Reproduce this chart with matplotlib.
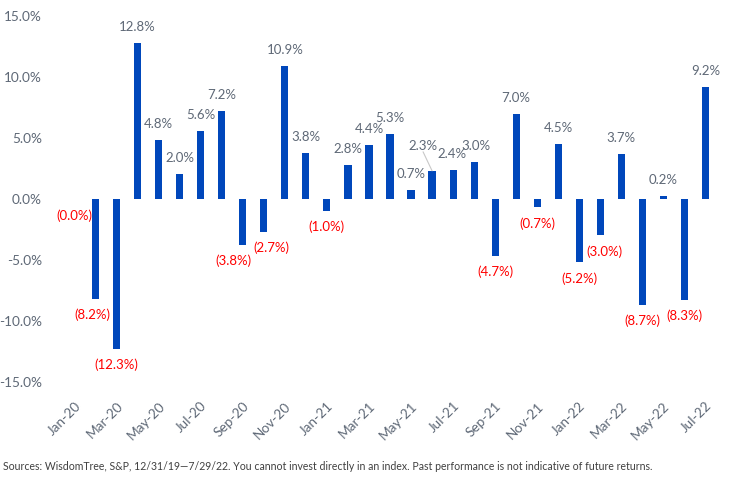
import matplotlib
matplotlib.use("Agg")
import matplotlib.pyplot as plt

months = ["Jan-20", "Feb-20", "Mar-20", "Apr-20", "May-20", "Jun-20", "Jul-20", "Aug-20",
          "Sep-20", "Oct-20", "Nov-20", "Dec-20", "Jan-21", "Feb-21", "Mar-21", "Apr-21",
          "May-21", "Jun-21", "Jul-21", "Aug-21", "Sep-21", "Oct-21", "Nov-21", "Dec-21",
          "Jan-22", "Feb-22", "Mar-22", "Apr-22", "May-22", "Jun-22", "Jul-22"]
returns = [-0.04, -8.2, -12.3, 12.8, 4.8, 2.0, 5.6, 7.2,
           -3.8, -2.7, 10.9, 3.8, -1.0, 2.8, 4.4, 5.3,
           0.7, 2.3, 2.4, 3.0, -4.7, 7.0, -0.7, 4.5,
           -5.2, -3.0, 3.7, -8.7, 0.2, -8.3, 9.2]
yticks = [-15, -10, -5, 0, 5, 10, 15]

# label nudges in pixels (dx, dy) to avoid overlaps, as in the original
nudges = {"Feb-20": (-3.5, 0), "Sep-20": (-9, 0), "Oct-20": (7.5, 0),
          "Feb-22": (4.5, 0), "Jun-21": (-9, 9), "Jul-21": (-1, 0), "Aug-21": (2, 0)}

FONT = ["Lato", "DejaVu Sans"]
plt.rcParams["font.family"] = FONT

W, H = 733, 482
fig = plt.figure(figsize=(W / 100, H / 100), dpi=100)
ax = fig.add_axes([64 / W, (H - 381.7) / H, 652 / W, (381.7 - 16) / H])

x = list(range(len(months)))
ax.bar(x, returns, width=0.34, color="#0047BB", zorder=2)
ax.set_xlim(-0.5, len(months) - 0.5)
ax.set_ylim(-15, 15)

ax.set_yticks(yticks)
ax.set_yticklabels([f"{v:.1f}%" for v in yticks])
ax.set_xticks(x[::2])
ax.set_xticklabels(months[::2], rotation=45, ha="right", rotation_mode="anchor")
ax.tick_params(axis="both", length=0, colors="#5E6876", labelsize=9.8)
ax.tick_params(axis="y", pad=16)
ax.tick_params(axis="x", pad=13)
for s in ax.spines.values():
    s.set_visible(False)

for xi, m, v in zip(x, months, returns):
    dx, dy = nudges.get(m, (0, 0))
    if v >= 0:
        txt = f"{v:.1f}%"
        col = "#5E6876"
        off = 16
    else:
        txt = f"({abs(v):.1f}%)"
        col = "#FF0000"
        off = -16
    ax.annotate(txt, xy=(xi, v), xytext=(dx * 0.72, (off + dy) * 0.72),
                textcoords="offset points", ha="center", va="center",
                color=col, fontsize=9.5)
    if m == "Jun-21":
        ax.annotate("", xy=(xi, v), xytext=(dx * 0.72, (off + dy - 6) * 0.72),
                    textcoords="offset points",
                    arrowprops=dict(arrowstyle="-", color="#C8C8C8", lw=0.8,
                                    shrinkA=0, shrinkB=0))

fig.text(3 / W, 1 - 466 / H,
         "Sources: WisdomTree, S&P, 12/31/19\u20147/29/22. You cannot invest directly in an index. "
         "Past performance is not indicative of future returns.",
         ha="left", va="center", fontsize=7.6, color="#404040")

fig.savefig("out.png", dpi=100, facecolor="white")
